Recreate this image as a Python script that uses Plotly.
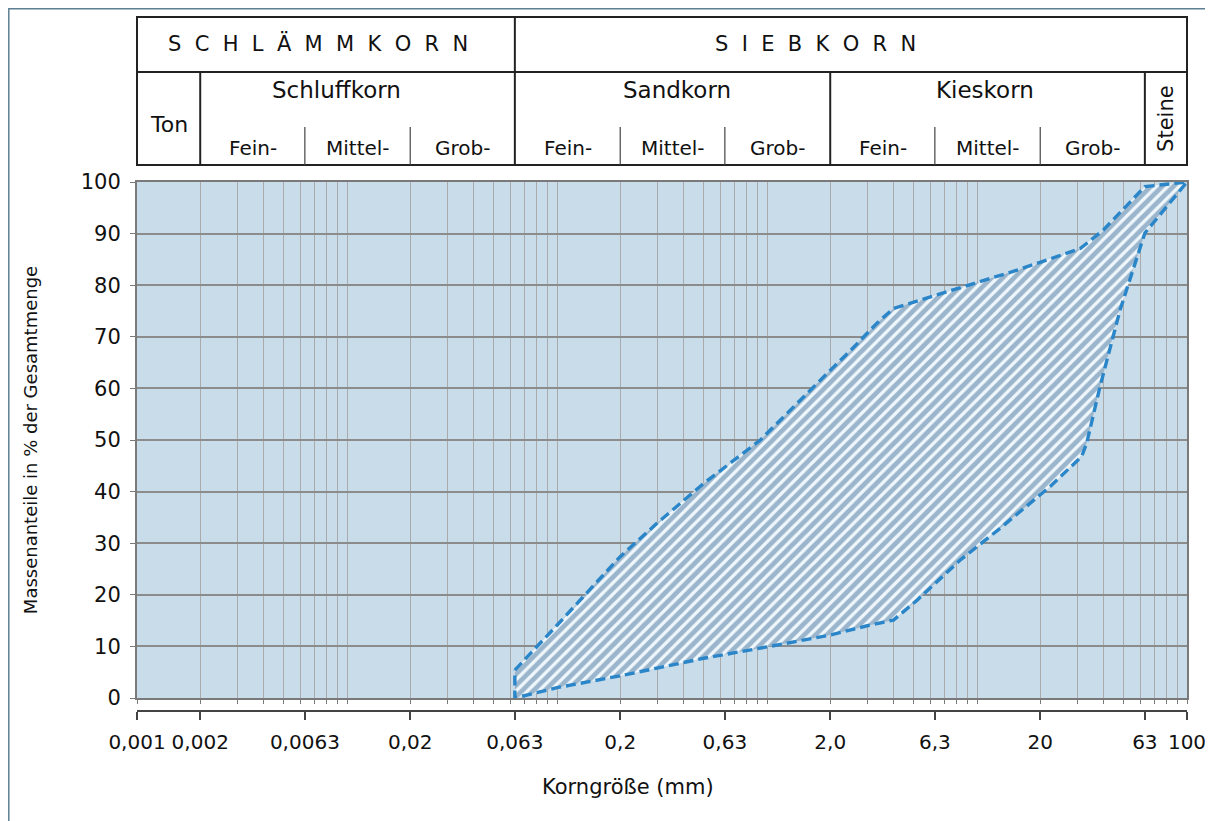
import numpy as np
import plotly.graph_objects as go

# grading band (Sieblinie)
upper_x = [0.063, 0.1, 0.2, 0.3, 0.5, 0.93, 2.0, 2.48, 3.33, 4.0, 8.6, 15.5, 31, 40, 63, 100]
upper_y = [5.4, 14.1, 27.4, 33.9, 41.6, 50.0, 63.5, 67.2, 72.6, 75.5, 79.7, 82.9, 87.1, 90.7, 99.1, 100]
lower_x = [0.063, 0.07, 0.1, 0.2, 0.3, 0.5, 1.0, 2.0, 3.0, 4.0, 5.2, 8.3, 12.9, 22.3, 31.5, 33.3, 38.5, 48, 63, 100]
lower_y = [0.0, 0.5, 2.0, 4.3, 5.8, 7.7, 9.9, 12.2, 14.0, 15.1, 19.0, 26.7, 32.9, 41.0, 46.8, 49.4, 60.3, 75.2, 90.1, 100]

# x axis labels
tick_vals = [0.001, 0.002, 0.0063, 0.02, 0.063, 0.2, 0.63, 2.0, 6.3, 20, 63, 100]
tick_text = ['0,001', '0,002', '0,0063', '0,02', '0,063', '0,2', '0,63', '2,0', '6,3', '20', '63', '100']

# header table
main_groups = ['SCHLÄMMKORN', 'SIEBKORN']
soil_groups = ['Ton', 'Schluffkorn', 'Sandkorn', 'Kieskorn', 'Steine']
sub_labels = ['Fein-', 'Mittel-', 'Grob-']
group_bounds = [0.001, 0.002, 0.063, 2.0, 63, 100]
sub_bounds = [0.0063, 0.02, 0.2, 0.63, 6.3, 20]

FONT = 'DejaVu Sans, Liberation Sans, Arial'
TXT = '#111111'
decades = [0.001, 0.01, 0.1, 1, 10]
grid_x = [d * m for d in decades for m in range(1, 10)] + [100]


def py(p):
    # page pixel row -> paper y (page has an 8px body margin)
    return (711 - p) / 529


def px(p):
    # page pixel column -> paper x
    return (p - 137) / 1050


def spaced(word):
    return '\u00a0\u00a0'.join(word)


band_x = upper_x + lower_x[::-1] + [upper_x[0]]
band_y = upper_y + lower_y[::-1] + [upper_y[0]]

fig = go.Figure()
fig.add_trace(
    go.Scatter(
        x=band_x, y=band_y, mode='lines', fill='toself',
        line=dict(color='#2a86c8', width=3.4, dash='10px,5px'),
        fillcolor='#eef6fc',
        fillpattern=dict(shape='/', fgcolor='#43739c', bgcolor='#f0f7fc', size=8, solidity=0.6),
        showlegend=False, hoverinfo='skip'
    )
)
# carrier for the labelled grain-size axis
fig.add_trace(
    go.Scatter(x=tick_vals, y=[None] * len(tick_vals), xaxis='x2', mode='markers',
               showlegend=False, hoverinfo='skip')
)

# header table (shapes on the log axis take raw mm values)
shapes = []
line_k = dict(color='#222222', width=2)
shapes.append(dict(type='rect', xref='paper', yref='paper', x0=0, x1=1, y0=py(165), y1=py(17), line=line_k))
shapes.append(dict(type='line', xref='paper', yref='paper', x0=0, x1=1, y0=py(72), y1=py(72), line=line_k))
shapes.append(dict(type='line', xref='x', yref='paper', x0=0.063, x1=0.063,
                   y0=py(165), y1=py(17), line=line_k))
for b in [0.002, 2.0, 63]:
    shapes.append(dict(type='line', xref='x', yref='paper', x0=b, x1=b,
                       y0=py(165), y1=py(72), line=line_k))
for b in sub_bounds:
    shapes.append(dict(type='line', xref='x', yref='paper', x0=b, x1=b,
                       y0=py(165), y1=py(127), line=dict(color='#444444', width=1.2)))
# outer picture frame
shapes.append(dict(type='rect', xref='paper', yref='paper', x0=px(8.8), x1=px(1240), y0=py(860), y1=py(8.8),
                   line=dict(color='#5d7f94', width=1.5), layer='below'))

# annotations on the log axis take log10 positions
annotations = []
lg = np.log10(group_bounds)
annotations.append(dict(x=(lg[0] + lg[2]) / 2 - 0.04, y=py(44), text=spaced(main_groups[0]), font=dict(size=21)))
annotations.append(dict(x=(lg[2] + lg[4]) / 2 - 0.07, y=py(44), text=spaced(main_groups[1]), font=dict(size=21)))
annotations.append(dict(x=(lg[0] + lg[1]) / 2, y=py(124), text=soil_groups[0], font=dict(size=22)))
shift = [-0.1, 0.02, -0.01]
for i, name in enumerate(soil_groups[1:4]):
    annotations.append(dict(x=(lg[i + 1] + lg[i + 2]) / 2 + shift[i], y=py(90), text=name, font=dict(size=23)))
annotations.append(dict(x=(lg[4] + lg[5]) / 2, y=py(118), text=soil_groups[4], textangle=-90,
                        font=dict(size=21)))
for lo, hi in [(0.002, 0.063), (0.063, 2.0), (2.0, 63)]:
    edges = [lo] + [b for b in sub_bounds if lo < b < hi] + [hi]
    le = np.log10(edges)
    for j, lab in enumerate(sub_labels):
        annotations.append(dict(x=(le[j] + le[j + 1]) / 2, y=py(148), text=lab, font=dict(size=20)))
for a in annotations:
    a.update(xref='x', yref='paper')
# x axis title, sits left of the plot centre in the original
annotations.append(dict(xref='paper', yref='paper', x=px(628), y=py(787), text='Korngröße (mm)',
                        font=dict(size=21)))
for a in annotations:
    a.update(showarrow=False, xanchor='center', yanchor='middle')
    a['font'].update(family=FONT, color=TXT)

fig.update_layout(
    width=1213, height=821,
    margin=dict(l=129, r=34, t=174, b=118),
    paper_bgcolor='white',
    plot_bgcolor='#c9dce9',
    font=dict(family=FONT, color=TXT),
    shapes=shapes,
    annotations=annotations,
    xaxis=dict(
        type='log', range=[-3, 2], automargin=False,
        tickvals=grid_x, showticklabels=False,
        ticks='outside', ticklen=4, tickcolor='#7a7a7a',
        showgrid=True, gridcolor='#aaaaaa', gridwidth=1,
        showline=True, linecolor='#7a7a7a', linewidth=2, mirror=True,
        zeroline=False
    ),
    xaxis2=dict(
        type='log', range=[-3, 2], overlaying='x', anchor='free', position=0, side='bottom',
        automargin=False,
        tickvals=tick_vals, ticktext=tick_text,
        ticks='outside', ticklen=8, tickcolor='#444444', tickwidth=1.5,
        tickfont=dict(size=20, family=FONT, color=TXT), ticklabelstandoff=5,
        showgrid=False, showline=True, linecolor='#444444', linewidth=1.5, zeroline=False
    ),
    yaxis=dict(
        domain=[13 / 529, 1], range=[0, 100], dtick=10, automargin=False,
        ticks='outside', ticklen=5, tickcolor='#7a7a7a',
        tickfont=dict(size=21, family=FONT, color=TXT), ticklabelstandoff=5,
        showgrid=True, gridcolor='#8c8c8c', gridwidth=1.5,
        showline=True, linecolor='#7a7a7a', linewidth=2, mirror=True,
        zeroline=False,
        title=dict(text='Massenanteile in % der Gesamtmenge', font=dict(size=18, family=FONT, color=TXT),
                   standoff=38)
    ),
)

fig.write_html("out.html")
